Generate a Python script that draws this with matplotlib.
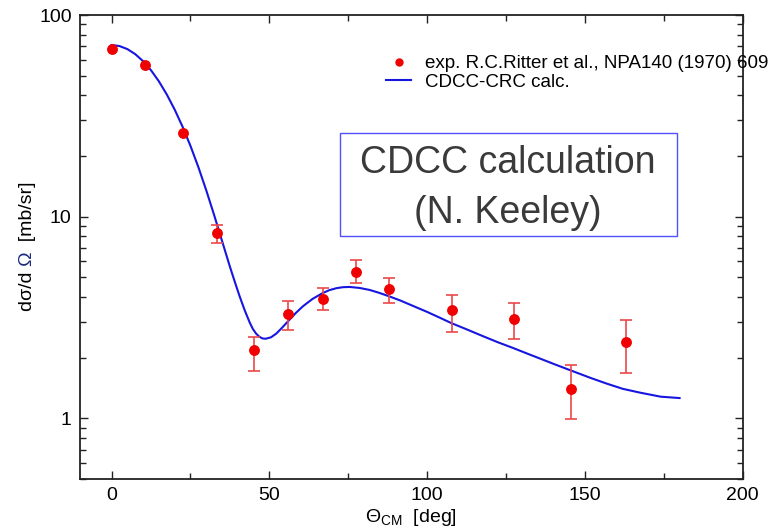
import numpy as np
import matplotlib
matplotlib.use("Agg")
import matplotlib.pyplot as plt
from matplotlib.patches import Rectangle
from matplotlib.lines import Line2D
from matplotlib.ticker import FixedLocator, NullFormatter, LogLocator

plt.rcParams['font.family'] = ['Liberation Sans', 'DejaVu Sans']
plt.rcParams['mathtext.fontset'] = 'custom'
plt.rcParams['mathtext.rm'] = 'Liberation Sans'
plt.rcParams['mathtext.it'] = 'Liberation Sans:italic'

# experimental data (R.C. Ritter et al.)
theta_exp = [0, 10.5, 22.5, 33.5, 45, 56, 67, 77.5, 88, 108, 127.5, 145.5, 163]
xs_exp = [67.6, 56.6, 25.9, 8.3, 2.18, 3.30, 3.91, 5.34, 4.40, 3.46, 3.11, 1.40, 2.39]
err_minus = [0, 0, 0, 0.87, 0.46, 0.57, 0.47, 0.65, 0.66, 0.77, 0.65, 0.41, 0.71]
err_plus = [0, 0, 0, 0.76, 0.36, 0.53, 0.51, 0.78, 0.59, 0.64, 0.64, 0.44, 0.68]

# CDCC-CRC calculation
theta_calc = [0, 2.5, 5, 7.5, 10, 12.5, 15, 17.5, 20, 22.5, 25, 27.5, 30, 32.5, 35,
              37.5, 39, 40.6, 42.2, 43.8, 44.8, 45.8, 46.8, 47.8, 48.8,
              50.5, 52.2, 54.1, 56.1, 58.4, 60.7, 63.7, 66.8, 69.0, 71.3, 73.4, 75.5,
              78.6, 81.8, 84.8, 87.9, 91.3, 95.5, 100.0, 103.9, 107.8, 112.8, 117.8,
              122.5, 127.3, 131.5, 135.7, 140.5, 145.4, 151.6, 156.9, 162.0, 167.5,
              174.0, 180.0]
xs_calc = [70.96, 70.15, 67.76, 63.97, 59.02, 53.21, 46.88, 40.36, 33.96, 27.93, 22.44,
           17.62, 13.52, 10.19, 7.59, 5.65, 4.78, 4.02, 3.43, 2.98, 2.77, 2.63, 2.54,
           2.49, 2.48,
           2.52, 2.63, 2.82, 3.05, 3.33, 3.60, 3.91, 4.17, 4.32, 4.42, 4.47, 4.48,
           4.43, 4.33, 4.19, 4.03, 3.85, 3.61, 3.37, 3.16, 2.96, 2.75, 2.55,
           2.38, 2.23, 2.10, 1.98, 1.85, 1.73, 1.59, 1.486, 1.40, 1.34,
           1.28, 1.26]

fig = plt.figure(figsize=(7.7, 5.31), dpi=100)
ax = fig.add_axes([80/770, 1-479/531, (742.7-80)/770, (479-15)/531])

red = '#f00000'
ebar_red = '#ec4848'
blue = '#1616e0'

ax.plot(theta_calc, xs_calc, color=blue, lw=1.5, zorder=2)

te = np.array(theta_exp); ye = np.array(xs_exp)
em = np.array(err_minus); ep = np.array(err_plus)
mask = (em > 0) | (ep > 0)
ax.errorbar(te[mask], ye[mask], yerr=[em[mask], ep[mask]], fmt='none',
            ecolor=ebar_red, elinewidth=1.2, capsize=4, capthick=1.2, zorder=3)
ax.plot(te, ye, 'o', color=red, ms=6.8, mec=red, zorder=4)

ax.set_yscale('log')
ax.set_xlim(-10, 200)
ax.set_ylim(0.5, 100)
ax.xaxis.set_major_locator(FixedLocator([0, 50, 100, 150, 200]))
ax.xaxis.set_minor_locator(FixedLocator([25, 75, 125, 175]))
ax.yaxis.set_major_locator(FixedLocator([1, 10, 100]))
ax.yaxis.set_minor_locator(LogLocator(base=10, subs=np.arange(2, 10)))
ax.yaxis.set_minor_formatter(NullFormatter())
ax.set_yticklabels(['1', '10', '100'])
ax.tick_params(which='both', direction='in', top=True, right=True,
               labelsize=14, colors='#222222', labelcolor='black')
ax.tick_params(which='major', length=6, width=1.0, pad=6)
ax.tick_params(which='minor', length=4, width=1.0)
for s in ax.spines.values():
    s.set_linewidth(1.3)
    s.set_color('#222222')

ax.set_xlabel('Θ$_{\\mathrm{CM}}$  [deg]', fontsize=14, labelpad=2)

# y label in pieces (Omega is dark blue)
fig.canvas.draw()
r = fig.canvas.get_renderer()
ylab_x = 27/770
y0 = 1 - 311/531
parts = [('dσ/d ', 'black'), ('Ω', '#1a2a80'), ('  [mb/sr]', 'black')]
ycur = y0
for txt, c in parts:
    t = fig.text(ylab_x, ycur, txt, rotation=90, ha='center', va='bottom',
                 fontsize=14, color=c)
    bb = t.get_window_extent(renderer=r)
    ycur += bb.height / fig.bbox.height

# legend
handles = [Line2D([], [], ls='none', marker='o', color=red, ms=5),
           Line2D([], [], color=blue, lw=1.5)]
labels = ['exp. R.C.Ritter et al., NPA140 (1970) 609', 'CDCC-CRC calc.']
fig.legend(handles, labels, loc='upper left', bbox_to_anchor=(386/770, 1-55/531),
           frameon=False, fontsize=13.5, handlelength=1.35, handletextpad=0.75,
           labelspacing=0.08, borderpad=0, borderaxespad=0)

# annotation box
fig.patches.append(Rectangle((340/770, 1-236/531), (677-340)/770, (236-133)/531,
                             transform=fig.transFigure, fill=False,
                             edgecolor='#5050ff', lw=1.0))
fig.text(508/770, 1-163/531, 'CDCC calculation', ha='center', va='center',
         fontsize=27, color='#3a3a3a')
fig.text(508/770, 1-213/531, '(N. Keeley)', ha='center', va='center',
         fontsize=27, color='#3a3a3a')

fig.savefig('out.png', dpi=100)
